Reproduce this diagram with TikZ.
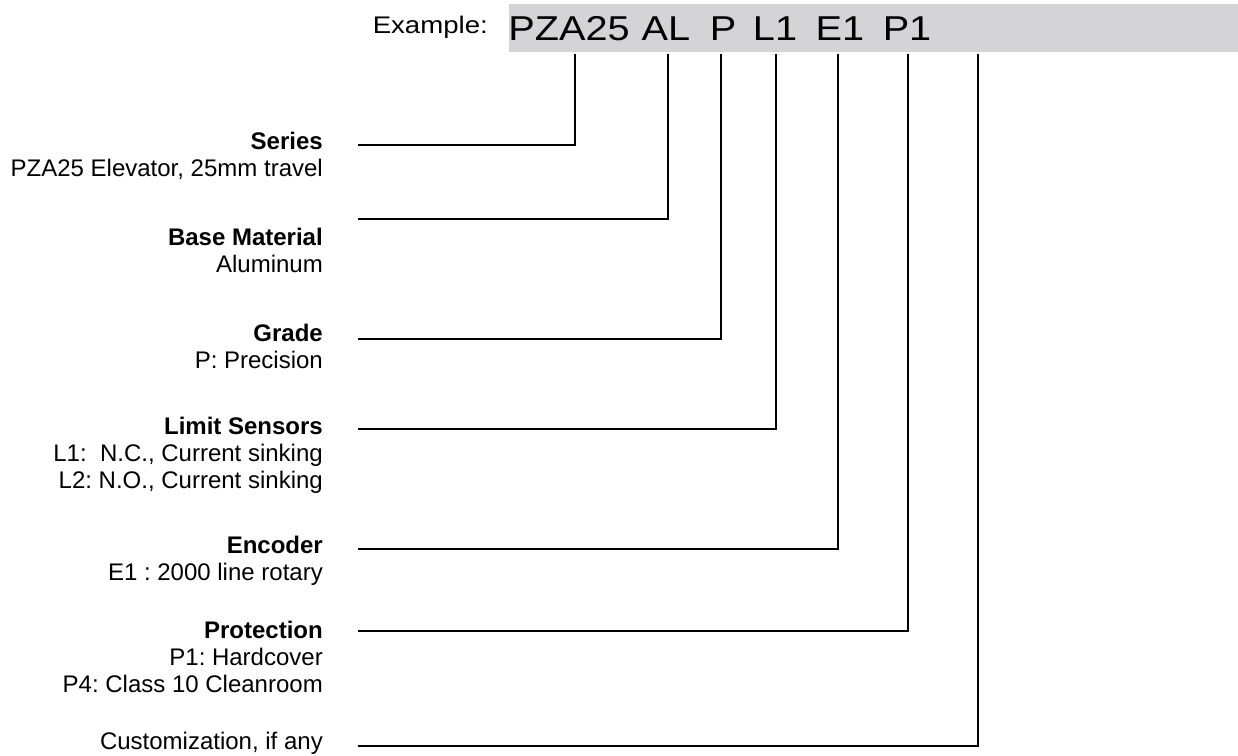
\documentclass[tikz,border=0pt]{standalone}
\usepackage{fontspec}
\setmainfont{Liberation Sans}
\newfontfamily\codefont[FakeStretch=1.15]{Liberation Sans}
\definecolor{boxgray}{RGB}{212,211,213}
\tikzset{every node/.style={inner sep=0pt},
  part/.style={align=right,anchor=base east,font=\fontsize{24}{27}\selectfont\frenchspacing},
  codetext/.style={anchor=base,font=\codefont\fontsize{34.5}{40}\selectfont},
  leader/.style={line width=2.3pt}}

\begin{document}
\begin{tikzpicture}[x=1pt,y=-1pt]
    \useasboundingbox (0,0) rectangle (1238,755);
    \fill[boxgray] (509,4) rectangle (1238,52);
    \node[anchor=base east,font=\codefont\fontsize{24}{27}\selectfont] (ex) at (488,33) {Example:};
    \foreach \n/\x/\t in {pza/569/PZA25, al/666/AL, gr/723/P, ls/775/L1, en/840/E1, pr/907/P1}
        \node[codetext] (\n) at (\x,40.7) {\t};
    \coordinate (rail) at (0,54);
    \coordinate (cu) at (978,54);

    % base of each block = baseline of its last line
    \node[part] (series) at (323,176) {\textbf{Series}\\PZA25 Elevator, 25mm travel};
    \node[part] (base) at (323,272) {\textbf{Base Material}\\Aluminum};
    \node[part] (grade) at (323,368) {\textbf{Grade}\\P: Precision};
    \node[part] (limit) at (323,488) {\textbf{Limit Sensors}\\L1:\ \ N.C., Current sinking\\L2: N.O., Current sinking};
    \node[part] (enc) at (323,580) {\textbf{Encoder}\\E1 : 2000 line rotary};
    \node[part] (prot) at (323,692) {\textbf{Protection}\\P1: Hardcover\\P4: Class 10 Cleanroom};
    \node[part] (cust) at (323,749) {Customization, if any};

    % leader lines
    \coordinate (s1) at (358,145);
    \coordinate (s2) at (358,219);
    \coordinate (s3) at (358,339);
    \coordinate (s4) at (358,429);
    \coordinate (s5) at (358,549);
    \coordinate (s6) at (358,631);
    \coordinate (s7) at (358,746);
    \draw[leader] (s1) -| ([xshift=6pt]pza |- rail);
    \draw[leader] (s2) -| ([xshift=2pt]al |- rail);
    \draw[leader] (s3) -| ([xshift=-2pt]gr |- rail);
    \draw[leader] (s4) -| ([xshift=1pt]ls |- rail);
    \draw[leader] (s5) -| ([xshift=-2pt]en |- rail);
    \draw[leader] (s6) -| ([xshift=1pt]pr |- rail);
    \draw[leader] (s7) -| (cu);
\end{tikzpicture}
\end{document}
